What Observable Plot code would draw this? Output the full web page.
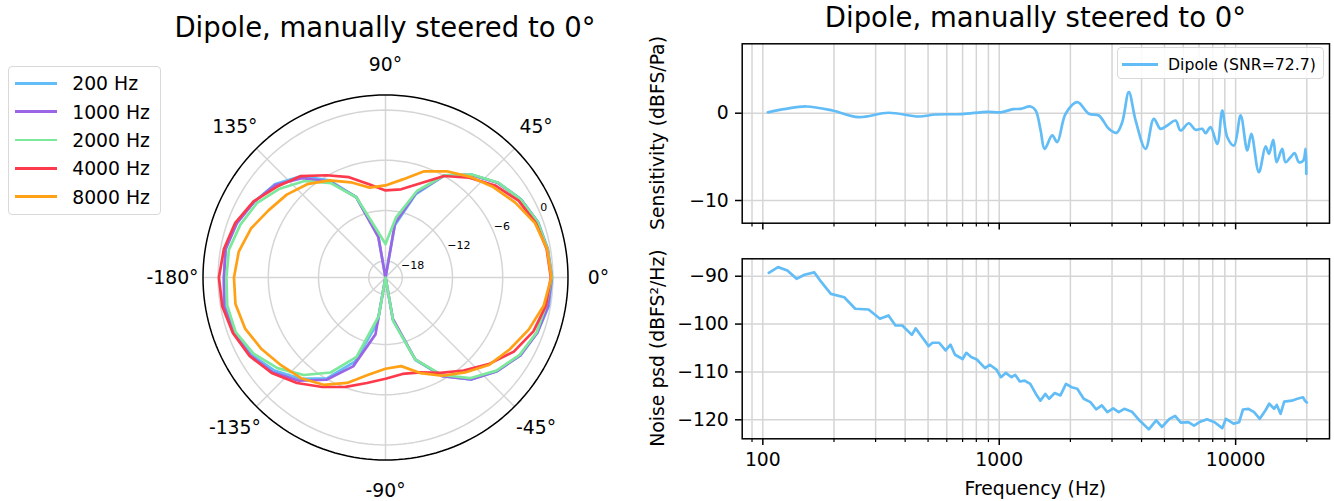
<!DOCTYPE html>
<html>
<head>
<meta charset="utf-8">
<script src="https://cdn.jsdelivr.net/npm/d3@7"></script>
<script src="https://cdn.jsdelivr.net/npm/@observablehq/plot@0.6"></script>
<style>
  html, body { margin: 0; padding: 0; background: #fff; }
  body { font-family: "DejaVu Sans", sans-serif; color: #000; }
  #root { position: relative; width: 1334px; height: 501px; overflow: hidden; }
  .abs { position: absolute; }
  .ctr { white-space: nowrap; transform: translate(-50%, -50%); }
  .title { font-size: 27.5px; }
  .lab { font-size: 18.8px; }
  .ylab { font-size: 18.8px; white-space: nowrap; transform: translate(-50%, -50%) rotate(-90deg); }
  .legend { border: 1px solid #d9d9d9; border-radius: 4px; background: rgba(255,255,255,0.85); box-sizing: border-box; }
  svg { overflow: visible; }
</style>
</head>
<body>
<div id="root"></div>
<script>
// ---------- Polar data (dB vs angle in degrees) ----------
const angles = [-180,-170,-160,-150,-140,-130,-120,-110,-100,-90,-80,-70,-60,-50,-40,-30,-20,-10,0,
                10,20,30,40,50,60,70,80,90,100,110,120,130,140,150,160,170,180];
const series = ["200 Hz", "1000 Hz", "2000 Hz", "4000 Hz", "8000 Hz"];
const colors = ["#62bcf6", "#9a66e6", "#7ce89c", "#fc3a4c", "#ffa015"];
const gain200  = [-0.7,-0.5,-0.8,-1.5,-2.7,-4.2,-6.1,-9.3,-14.5,-20,-14.8,-9.5,-6.4,-4.1,-2.6,-1.4,-0.7,-0.2,-0.1,
                  -0.3,-0.6,-1.3,-2.4,-4.0,-5.9,-9.4,-13.7,-20,-15.0,-9.8,-6.6,-4.2,-2.7,-1.9,-1.0,-0.6,-0.7];
const gain1000 = [-0.7,-0.4,-0.65,-1.35,-2.4,-3.9,-5.9,-8.7,-13.1,-20,-15.0,-9.6,-6.4,-4.1,-2.6,-1.4,-0.7,-0.3,-0.15,
                  -0.35,-0.65,-1.35,-2.45,-4.0,-5.9,-9.2,-13.4,-20,-15.1,-9.8,-6.8,-4.5,-2.8,-1.9,-1.1,-0.6,-0.7];
const gain2000 = [-1.0,-0.8,-0.95,-1.8,-3.15,-4.8,-6.9,-9.9,-15.3,-20,-14.7,-9.55,-6.55,-4.3,-2.7,-1.5,-0.8,-0.55,-0.15,
                  -0.35,-0.65,-1.35,-2.4,-3.95,-5.9,-9.0,-12.7,-16.0,-14.3,-9.8,-7.0,-4.95,-3.5,-2.25,-1.55,-1.0,-1.0];
const gain4000 = [-0.1,-0.2,-0.6,-1.25,-2.25,-3.55,-4.9,-6.1,-7.2,-7.9,-8.3,-7.95,-6.85,-5.5,-3.9,-2.3,-1.2,-0.55,-0.25,
                  -0.45,-0.9,-1.65,-2.9,-4.45,-6.0,-8.05,-9.3,-9.6,-8.7,-7.25,-5.9,-4.2,-3.1,-1.8,-0.9,-0.4,-0.1];
const gain8000 = [-1.9,-1.8,-2.15,-2.9,-3.7,-4.3,-5.2,-6.6,-8.2,-9.1,-9.25,-7.85,-6.45,-5.2,-3.8,-2.85,-1.8,-0.8,-0.2,
                  -0.4,-1.0,-2.1,-3.2,-4.3,-5.35,-6.5,-8.1,-9.0,-9.1,-7.9,-6.6,-5.45,-4.6,-3.9,-2.9,-2.2,-1.9];
const gains = [gain200, gain1000, gain2000, gain4000, gain8000];
const rTicks = [-18, -12, -6, 0];
const rMin = -20, rMax = 1.8;
const thetaTicks = [0, 45, 90, 135, 180, 225, 270, 315];
const thetaLabels = ["0°", "45°", "90°", "135°", "-180°", "-135°", "-90°", "-45°"];

// ---------- Sensitivity / noise data ----------
const sensFreq = [105,125,153,197,254,340,456,538,693,891,1010,1146,1231,1357,1426,1497,1556,1676,1759,1909,
                  2139,2395,2638,2909,3133,3313,3533,3776,4159,4508,4810,5140,5570,5847,6339,6763,7220,7460,7830,8360,
                  8780,9220,9840,10500,11200,11650,12540,13390,13830,14430,14900,15740,16250,17070,17750,18520,19330,19770,19900];
const sensDb = [0.1,0.5,0.77,0.31,-0.45,0.05,-0.38,-0.15,-0.1,0.16,0.1,0.46,0.5,0.77,0.31,-1.98,-4.08,-2.55,-3.32,-0.07,
                1.26,-0.07,-0.26,-1.79,-2.25,-1.03,2.41,-0.84,-4.08,-0.64,-1.79,-1.41,-0.84,-1.98,-1.15,-1.9,-1.79,-2.29,-1.6,-3.51,
                0.31,-2.75,-3.7,-0.26,-4.27,-2.36,-6.76,-3.81,-4.65,-3.05,-5.61,-4.08,-5.61,-5.04,-4.58,-5.61,-5.42,-4.08,-6.94];
const noiseFreq = [106,116,127,139,150,165,177,194,221,246,280,313,340,364,389,427,443,468,503,522,557,593,622,650,700,726,761,804,871,912,
                   973,1017,1066,1127,1168,1222,1280,1353,1429,1493,1566,1625,1717,1815,1916,2025,2139,2277,2431,2569,2716,2867,3034,3202,3381,
                   3641,3917,4293,4613,4877,5248,5546,5863,6310,6669,7087,7568,8146,8775,9100,9800,10350,10740,11330,11970,12650,13360,13870,
                   14550,14930,15490,16050,17270,18250,19290,19630,20000];
const noiseDb = [-89.3,-88.1,-88.8,-90.55,-89.7,-89.2,-91.25,-93.7,-94.4,-96.8,-96.95,-98.9,-98.2,-100.3,-100.3,-102.25,-100.9,-102.5,-104.6,-103.9,
                 -103.9,-105.5,-104.3,-106.4,-107.3,-106,-106.9,-107.4,-109.2,-108.5,-109.5,-111.1,-110.2,-111.1,-110.6,-112,-111.8,-112.5,-114.6,-116,
                 -114.6,-115.6,-114.4,-114.9,-112.5,-113.2,-113.5,-115.6,-116.3,-117.8,-117,-118.4,-117.6,-118.4,-117.7,-118.3,-120.1,-122,-120.1,-121.5,
                 -119.8,-119.2,-120.6,-120.5,-121.2,-120.4,-119.9,-120.5,-121.75,-119.8,-120.8,-120.5,-117.85,-117.7,-118.4,-119.8,-118.05,-116.65,-117.7,-116.9,
                 -118.75,-116.2,-116,-115.6,-115.3,-116,-116.4];
const lineName = "Dipole (SNR=72.7)";
const lineColor = "#62bcf6";
const freqMajor = [100, 1000, 10000];
const freqMinor = [90, 200, 300, 400, 500, 600, 700, 800, 900, 2000, 3000, 4000, 5000, 6000, 7000, 8000, 9000, 20000];
const sensTicks = [-10, 0];
const noiseTicks = [-120, -110, -100, -90];
const titleText = "Dipole, manually steered to 0°";

// ---------- helpers ----------
const root = document.getElementById("root");
const deg = Math.PI / 180;
const R = rMax - rMin;
const grid = "#d5d5d5";
const fmt = d => (d < 0 ? "\u2212" + Math.abs(d) : String(d));
const baseStyle = {fontFamily: "DejaVu Sans", fontSize: "18.8px", background: "transparent", overflow: "visible"};

function place(el, left, top) {
  el.style.position = "absolute";
  el.style.left = left + "px";
  el.style.top = top + "px";
  root.appendChild(el);
  return el;
}
function addText(txt, cls, x, y) {
  const d = document.createElement("div");
  d.className = "abs " + cls;
  d.textContent = txt;
  d.style.left = x + "px";
  d.style.top = y + "px";
  root.appendChild(d);
  return d;
}

// ---------- polar chart ----------
const polarRows = series.flatMap((s, i) => angles.map((a, j) => {
  const r = Math.max(gains[i][j], rMin) - rMin;
  return {series: s, x: r * Math.cos(a * deg), y: r * Math.sin(a * deg)};
}));
const circleSteps = d3.range(0, 361, 2);
const ringRows = rTicks.flatMap(t => circleSteps.map(a => ({t, x: (t - rMin) * Math.cos(a * deg), y: (t - rMin) * Math.sin(a * deg)})));
const outerRows = circleSteps.map(a => ({x: R * Math.cos(a * deg), y: R * Math.sin(a * deg)}));
const labelR = R * 213 / 182.5;

const polar = Plot.plot({
  width: 500, height: 500, margin: 67.5,
  x: {domain: [-R, R], axis: null},
  y: {domain: [-R, R], axis: null},
  color: {domain: series, range: colors},
  style: baseStyle,
  marks: [
    Plot.line(ringRows, {x: "x", y: "y", z: "t", stroke: grid, strokeWidth: 1.5}),
    Plot.link(thetaTicks, {x1: 0, y1: 0, x2: a => R * Math.cos(a * deg), y2: a => R * Math.sin(a * deg), stroke: grid, strokeWidth: 1.5}),
    Plot.line(polarRows, {x: "x", y: "y", z: "series", stroke: "series", strokeWidth: 2.7, strokeLinejoin: "round", curve: "linear"}),
    Plot.line(outerRows, {x: "x", y: "y", stroke: "black", strokeWidth: 1.5}),
    Plot.text(thetaTicks, {x: a => labelR * Math.cos(a * deg), y: a => labelR * Math.sin(a * deg), text: (a, i) => thetaLabels[i], fontSize: 18.8}),
    Plot.text(rTicks, {x: t => (t - rMin) * Math.cos(22.5 * deg), y: t => (t - rMin) * Math.sin(22.5 * deg), text: t => fmt(t), textAnchor: "start", dy: -6, fontSize: 11})
  ]
});
place(polar, 135, 26.5);

addText(titleText, "ctr title", 385, 27);

// left legend
const lg = document.createElement("div");
lg.className = "legend";
lg.style.width = "153px"; lg.style.height = "149px";
place(lg, 7.8, 66.3);
series.forEach((s, i) => {
  const cy = 16 + i * 28.33;
  const ln = document.createElement("div");
  ln.style.cssText = `position:absolute;left:6.7px;top:${cy - 1.4}px;width:41.7px;height:2.8px;background:${colors[i]};`;
  lg.appendChild(ln);
  const tx = document.createElement("div");
  tx.className = "lab";
  tx.textContent = s;
  tx.style.cssText += `position:absolute;left:63.4px;top:${cy}px;transform:translateY(-50%);white-space:nowrap;`;
  lg.appendChild(tx);
});

// ---------- right: sensitivity ----------
const xDomain = [81.8, 24950];
const sensRows = sensFreq.map((f, i) => ({f, v: sensDb[i]}));
const noiseRows = noiseFreq.map((f, i) => ({f, v: noiseDb[i]}));

const sens = Plot.plot({
  width: 694, height: 240,
  marginLeft: 101.7, marginRight: 5, marginTop: 43.3, marginBottom: 17.3,
  x: {type: "log", domain: xDomain},
  y: {domain: [-12.6, 7.95]},
  style: baseStyle,
  marks: [
    Plot.ruleX([...freqMajor, ...freqMinor], {stroke: grid, strokeWidth: 1.5}),
    Plot.ruleY(sensTicks, {stroke: grid, strokeWidth: 1.5}),
    Plot.line(sensRows, {x: "f", y: "v", stroke: lineColor, strokeWidth: 2.7, curve: "catmull-rom"}),
    Plot.frame({stroke: "black", strokeWidth: 1.5}),
    Plot.axisY({ticks: sensTicks, tickSize: 6.7, tickPadding: 6.7, tickFormat: fmt, fontSize: 18.8, label: null, strokeWidth: 1.5}),
    Plot.axisX({ticks: freqMajor, tickSize: 6.7, tickFormat: () => "", label: null, strokeWidth: 1.5}),
    Plot.axisX({ticks: freqMinor, tickSize: 3.8, tickFormat: () => "", label: null, strokeWidth: 1.2})
  ]
});
place(sens, 640, 0);

// ---------- right: noise ----------
const noise = Plot.plot({
  width: 694, height: 261,
  marginLeft: 101.7, marginRight: 5, marginTop: 18.3, marginBottom: 62.7,
  x: {type: "log", domain: xDomain},
  y: {domain: [-123.97, -86.36]},
  style: baseStyle,
  marks: [
    Plot.ruleX([...freqMajor, ...freqMinor], {stroke: grid, strokeWidth: 1.5}),
    Plot.ruleY(noiseTicks, {stroke: grid, strokeWidth: 1.5}),
    Plot.line(noiseRows, {x: "f", y: "v", stroke: lineColor, strokeWidth: 2.7, strokeLinejoin: "round"}),
    Plot.frame({stroke: "black", strokeWidth: 1.5}),
    Plot.axisY({ticks: noiseTicks, tickSize: 6.7, tickPadding: 6.7, tickFormat: fmt, fontSize: 18.8, label: null, strokeWidth: 1.5}),
    Plot.axisX({ticks: freqMajor, tickSize: 6.7, tickPadding: 6.7, tickFormat: d => String(d), fontSize: 18.8, label: null, strokeWidth: 1.5}),
    Plot.axisX({ticks: freqMinor, tickSize: 3.8, tickFormat: () => "", label: null, strokeWidth: 1.2})
  ]
});
place(noise, 640, 240);

addText(titleText, "ctr title", 1035.4, 17);
addText("Frequency (Hz)", "ctr lab", 1035.4, 488);
addText("Sensitivity (dBFS/Pa)", "ylab", 657, 133);
addText("Noise psd (dBFS²/Hz)", "ylab", 657, 348.3);

// right legend
const lg2 = document.createElement("div");
lg2.className = "legend";
lg2.style.width = "207.4px"; lg2.style.height = "32.3px";
place(lg2, 1116.6, 46.7);
const ln2 = document.createElement("div");
ln2.style.cssText = `position:absolute;left:4.4px;top:15.2px;width:35.6px;height:2.8px;background:${lineColor};`;
lg2.appendChild(ln2);
const tx2 = document.createElement("div");
tx2.textContent = lineName;
tx2.style.cssText = "position:absolute;left:50.4px;top:16.6px;transform:translateY(-50%);white-space:nowrap;font-size:15.7px;";
lg2.appendChild(tx2);
</script>
</body>
</html>
